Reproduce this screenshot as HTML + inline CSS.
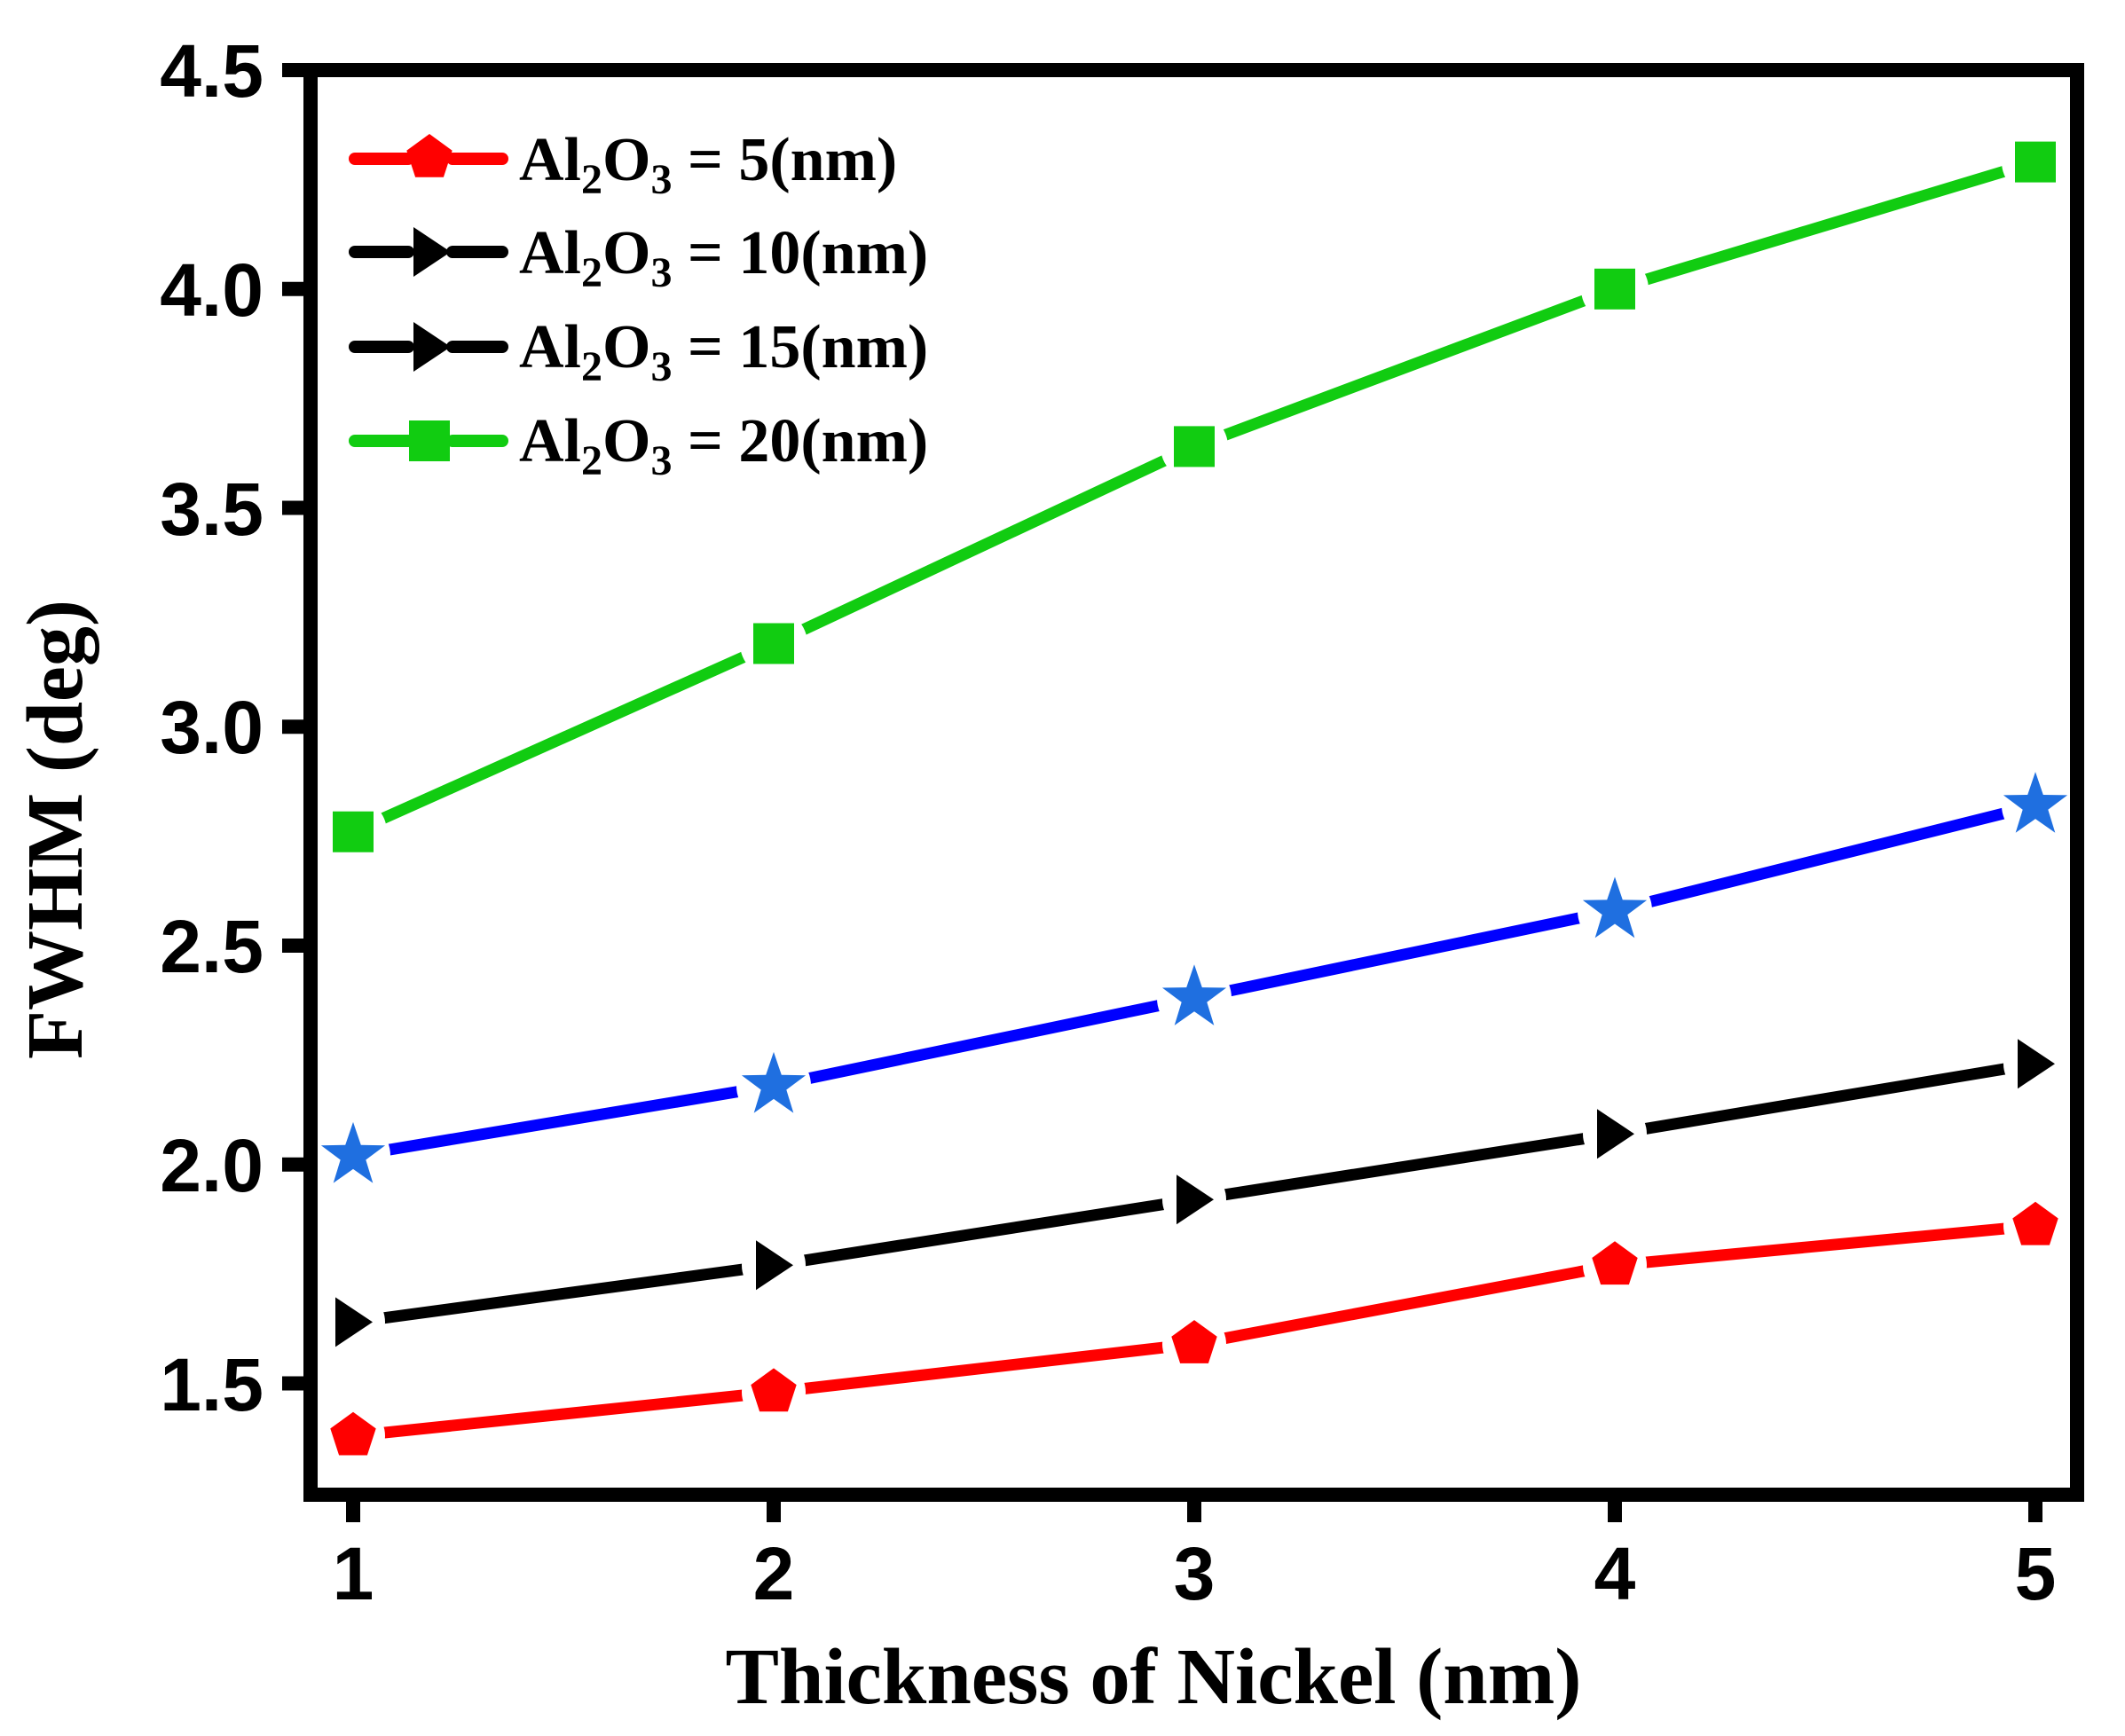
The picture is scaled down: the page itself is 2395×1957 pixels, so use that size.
<!DOCTYPE html>
<html><head><meta charset="utf-8"><style>html,body{margin:0;padding:0;background:#fff}svg{display:block}</style></head>
<body>
<svg width="2395" height="1957" viewBox="0 0 2395 1957" xmlns="http://www.w3.org/2000/svg">
<rect width="2395" height="1957" fill="#fff"/>
<defs>
<g id="pent"><polygon points="0,-27 25.7,-8.3 15.9,21.8 -15.9,21.8 -25.7,-8.3" fill="#ff0000"/></g>
<g id="tri"><polygon points="-20,-28 22,0 -20,28" fill="#000"/></g>
<g id="sq"><rect x="-23" y="-23" width="46" height="46" fill="#11cc11"/></g>
<g id="star"><polygon points="0,-38 8.8,-12.1 36.1,-11.7 14.3,4.6 22.3,30.7 0,15 -22.3,30.7 -14.3,4.6 -36.1,-11.7 -8.8,-12.1" fill="#1f6fe0"/></g>
</defs>
<g fill="none" stroke-width="13" stroke-linecap="round" stroke-linejoin="round">
<polyline stroke="#11cc11" points="398,937.7 872,725.5 1346,503.4 1820,325.8 2294,182.6"/>
<polyline stroke="#0000ff" points="398,1302.9 872,1223.9 1346,1125.2 1820,1026.5 2294,908.1"/>
<polyline stroke="#000" points="398,1490.4 872,1426.3 1346,1352.2 1820,1278.2 2294,1199.2"/>
<polyline stroke="#ff0000" points="398,1618.7 872,1569.4 1346,1515.1 1820,1426.3 2294,1381.8"/>
</g>
<g fill="#fff">
<circle cx="398" cy="937.7" r="38"/><circle cx="872" cy="725.5" r="38"/><circle cx="1346" cy="503.4" r="38"/><circle cx="1820" cy="325.8" r="38"/><circle cx="2294" cy="182.6" r="38"/>
<circle cx="398" cy="1302.9" r="42"/><circle cx="872" cy="1223.9" r="42"/><circle cx="1346" cy="1125.2" r="42"/><circle cx="1820" cy="1026.5" r="42"/><circle cx="2294" cy="908.1" r="38"/>
<circle cx="398" cy="1490.4" r="36"/><circle cx="872" cy="1426.3" r="36"/><circle cx="1346" cy="1352.2" r="36"/><circle cx="1820" cy="1278.2" r="36"/><circle cx="2294" cy="1199.2" r="36"/>
<circle cx="398" cy="1618.7" r="36"/><circle cx="872" cy="1569.4" r="36"/><circle cx="1346" cy="1515.1" r="36"/><circle cx="1820" cy="1426.3" r="36"/><circle cx="2294" cy="1381.8" r="36"/>
</g>
<use href="#sq" x="398" y="937.7"/><use href="#sq" x="872" y="725.5"/><use href="#sq" x="1346" y="503.4"/><use href="#sq" x="1820" y="325.8"/><use href="#sq" x="2294" y="182.6"/>
<use href="#star" x="398" y="1302.9"/><use href="#star" x="872" y="1223.9"/><use href="#star" x="1346" y="1125.2"/><use href="#star" x="1820" y="1026.5"/><use href="#star" x="2294" y="908.1"/>
<use href="#tri" x="398" y="1490.4"/><use href="#tri" x="872" y="1426.3"/><use href="#tri" x="1346" y="1352.2"/><use href="#tri" x="1820" y="1278.2"/><use href="#tri" x="2294" y="1199.2"/>
<use href="#pent" x="398" y="1618.7"/><use href="#pent" x="872" y="1569.4"/><use href="#pent" x="1346" y="1515.1"/><use href="#pent" x="1820" y="1426.3"/><use href="#pent" x="2294" y="1381.8"/>

<!-- axes frame -->
<rect x="350" y="79" width="1991" height="1606" fill="none" stroke="#000" stroke-width="16"/>
<g stroke="#000" stroke-width="16">
<line x1="318" y1="79" x2="350" y2="79"/><line x1="318" y1="325.8" x2="350" y2="325.8"/><line x1="318" y1="572.5" x2="350" y2="572.5"/><line x1="318" y1="819.3" x2="350" y2="819.3"/><line x1="318" y1="1066" x2="350" y2="1066"/><line x1="318" y1="1312.8" x2="350" y2="1312.8"/><line x1="318" y1="1559.5" x2="350" y2="1559.5"/>
<line x1="398" y1="1685" x2="398" y2="1716"/><line x1="872" y1="1685" x2="872" y2="1716"/><line x1="1346" y1="1685" x2="1346" y2="1716"/><line x1="1820" y1="1685" x2="1820" y2="1716"/><line x1="2294" y1="1685" x2="2294" y2="1716"/>
</g>
<g font-family="'Liberation Sans', Arial, sans-serif" font-weight="bold" font-size="84" fill="#000" text-anchor="end">
<text x="297" y="109">4.5</text><text x="297" y="356">4.0</text><text x="297" y="603">3.5</text><text x="297" y="849">3.0</text><text x="297" y="1096">2.5</text><text x="297" y="1343">2.0</text><text x="297" y="1590">1.5</text>
</g>
<g font-family="'Liberation Sans', Arial, sans-serif" font-weight="bold" font-size="84" fill="#000" text-anchor="middle">
<text x="398" y="1803">1</text><text x="872" y="1803">2</text><text x="1346" y="1803">3</text><text x="1820" y="1803">4</text><text x="2294" y="1803">5</text>
</g>
<text x="1300" y="1920" text-anchor="middle" font-family="'Liberation Serif', 'Times New Roman', serif" font-weight="bold" font-size="90" fill="#000" textLength="965" lengthAdjust="spacingAndGlyphs">Thickness of Nickel (nm)</text>
<text transform="translate(92,935) rotate(-90)" text-anchor="middle" font-family="'Liberation Serif', 'Times New Roman', serif" font-weight="bold" font-size="90" fill="#000" textLength="518" lengthAdjust="spacingAndGlyphs">FWHM (deg)</text>

<!-- legend -->
<g stroke-width="14" stroke-linecap="round">
<line x1="400" y1="179" x2="460" y2="179" stroke="#ff0000"/><line x1="510" y1="179" x2="566" y2="179" stroke="#ff0000"/>
<line x1="400" y1="284" x2="460" y2="284" stroke="#000"/><line x1="510" y1="284" x2="566" y2="284" stroke="#000"/>
<line x1="400" y1="391" x2="460" y2="391" stroke="#000"/><line x1="510" y1="391" x2="566" y2="391" stroke="#000"/>
<line x1="400" y1="497" x2="460" y2="497" stroke="#11cc11"/><line x1="510" y1="497" x2="566" y2="497" stroke="#11cc11"/>
</g>
<use href="#pent" x="484" y="178"/><use href="#tri" x="486" y="284"/><use href="#tri" x="486" y="391"/><use href="#sq" x="484" y="497"/>
<g font-family="'Liberation Serif', 'Times New Roman', serif" font-weight="bold" font-size="70" fill="#000">
<text x="585" y="203">Al<tspan font-size="48" dy="15">2</tspan><tspan dy="-15">O</tspan><tspan font-size="48" dy="15">3</tspan><tspan dy="-15"> = 5(nm)</tspan></text>
<text x="585" y="308">Al<tspan font-size="48" dy="15">2</tspan><tspan dy="-15">O</tspan><tspan font-size="48" dy="15">3</tspan><tspan dy="-15"> = 10(nm)</tspan></text>
<text x="585" y="414">Al<tspan font-size="48" dy="15">2</tspan><tspan dy="-15">O</tspan><tspan font-size="48" dy="15">3</tspan><tspan dy="-15"> = 15(nm)</tspan></text>
<text x="585" y="520">Al<tspan font-size="48" dy="15">2</tspan><tspan dy="-15">O</tspan><tspan font-size="48" dy="15">3</tspan><tspan dy="-15"> = 20(nm)</tspan></text>
</g>
</svg>
</body></html>
